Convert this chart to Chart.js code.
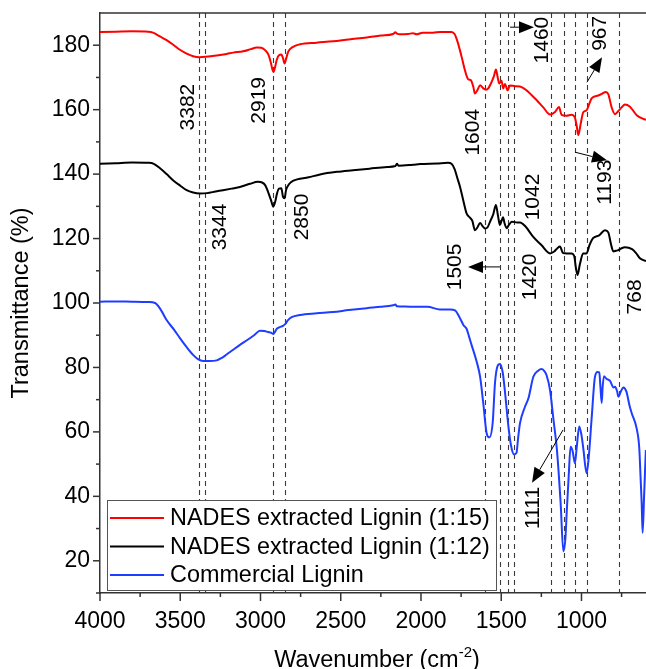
<!DOCTYPE html>
<html>
<head>
<meta charset="utf-8">
<title>FTIR spectra of lignin</title>
<script src="https://cdn.jsdelivr.net/npm/chart.js@4.4.1/dist/chart.umd.min.js"></script>
<style>
  html, body { margin: 0; padding: 0; background: #fff; }
  #wrap { width: 646px; height: 669px; }
</style>
</head>
<body>
<div id="wrap"><canvas id="ftir" width="646" height="669"></canvas></div>
<script>
const FONT = '"Liberation Sans", Arial, Helvetica, sans-serif';

// series (wavenumber in cm-1, transmittance in %)
const seriesNames = ['NADES extracted Lignin (1:15)', 'NADES extracted Lignin (1:12)', 'Commercial Lignin'];
const seriesColors = ['#ff0000', '#000000', '#1f3dff'];

const redWave = [4000, 3900, 3800, 3700, 3670, 3630, 3585, 3540, 3502, 3460, 3420, 3382, 3340, 3273, 3210, 3170, 3108, 3060, 3024, 2995, 2970, 2950, 2935, 2925, 2919, 2910, 2899, 2885, 2870, 2860, 2850, 2842, 2827, 2800, 2754, 2650, 2548, 2450, 2338, 2250, 2174, 2160, 2150, 2131, 2080, 2050, 2027, 1990, 1925, 1880, 1810, 1790, 1775, 1757, 1740, 1726, 1705, 1690, 1674, 1664, 1649, 1632, 1612, 1595, 1581, 1560, 1545, 1533, 1522, 1512, 1498, 1488, 1477, 1460, 1446, 1414, 1383, 1342, 1310, 1280, 1238, 1196, 1165, 1140, 1124, 1093, 1062, 1041, 1030, 1020, 1005, 989, 968, 950, 937, 895, 870, 849, 833, 812, 791, 770, 750, 729, 698, 656, 614, 598];
const redT = [184.1, 184.2, 184.3, 184.2, 183.9, 182.8, 181.6, 180.0, 178.6, 177.4, 176.6, 176.3, 176.4, 176.8, 177.3, 177.7, 178.1, 178.8, 179.3, 179.2, 178.4, 177.0, 174.5, 172.3, 171.7, 173.0, 175.4, 176.9, 177.1, 176.0, 174.3, 175.5, 178.0, 179.4, 180.3, 180.8, 181.2, 181.8, 182.4, 183.0, 183.5, 184.0, 183.6, 183.4, 183.5, 183.7, 183.4, 183.9, 183.9, 184.1, 184.1, 183.4, 181.5, 178.4, 175.0, 172.2, 169.4, 169.2, 167.1, 165.0, 166.0, 167.6, 166.6, 166.2, 166.6, 168.6, 170.5, 172.5, 170.0, 168.1, 169.0, 166.6, 168.0, 166.0, 167.5, 167.3, 167.2, 166.0, 164.5, 163.0, 160.7, 158.5, 159.3, 160.8, 158.4, 158.1, 158.4, 157.5, 155.0, 152.1, 155.6, 159.2, 159.8, 162.0, 163.5, 164.4, 165.0, 165.5, 164.8, 160.7, 158.6, 159.6, 160.7, 161.6, 160.9, 158.3, 157.1, 156.9];

const blackWave = [4000, 3900, 3800, 3700, 3665, 3626, 3585, 3545, 3500, 3460, 3420, 3377, 3333, 3280, 3234, 3180, 3128, 3065, 3016, 2990, 2970, 2953, 2935, 2920, 2908, 2897, 2885, 2870, 2860, 2850, 2841, 2820, 2798, 2700, 2629, 2524, 2424, 2320, 2212, 2160, 2150, 2140, 2050, 2006, 1900, 1832, 1810, 1790, 1775, 1757, 1735, 1716, 1695, 1680, 1664, 1648, 1632, 1615, 1601, 1585, 1570, 1550, 1533, 1520, 1508, 1498, 1489, 1478, 1466, 1455, 1434, 1400, 1383, 1350, 1302, 1250, 1196, 1170, 1150, 1134, 1115, 1090, 1062, 1045, 1035, 1025, 1010, 990, 968, 950, 928, 890, 853, 833, 815, 802, 785, 770, 750, 729, 685, 660, 636, 598];
const blackT = [143.2, 143.4, 143.6, 143.5, 143.2, 141.8, 140.0, 138.1, 136.4, 135.0, 134.3, 134.0, 134.1, 134.6, 135.0, 135.5, 136.0, 137.0, 137.6, 137.4, 136.5, 134.5, 132.0, 129.9, 131.5, 134.0, 135.5, 135.6, 133.0, 132.5, 135.0, 137.0, 137.9, 139.0, 139.9, 140.7, 141.2, 141.7, 142.2, 142.5, 143.2, 142.6, 142.9, 143.1, 143.3, 143.5, 143.2, 141.5, 139.0, 136.1, 131.5, 127.8, 126.5, 125.5, 122.6, 123.5, 124.8, 123.8, 123.1, 123.5, 125.2, 127.5, 130.4, 127.0, 124.2, 125.5, 126.6, 124.5, 123.2, 124.0, 125.2, 125.0, 125.0, 123.8, 120.6, 118.0, 115.4, 116.0, 117.0, 117.5, 115.5, 115.4, 115.4, 114.5, 111.0, 108.7, 112.0, 115.4, 115.4, 118.0, 120.1, 121.0, 122.6, 121.9, 118.0, 116.0, 116.2, 116.4, 117.0, 117.3, 116.7, 115.5, 113.9, 113.0];

const blueWave = [4000, 3900, 3800, 3700, 3657, 3620, 3585, 3540, 3502, 3460, 3420, 3390, 3358, 3320, 3273, 3240, 3211, 3170, 3128, 3080, 3040, 3003, 2975, 2953, 2935, 2920, 2910, 2899, 2880, 2860, 2845, 2830, 2806, 2754, 2650, 2548, 2450, 2338, 2250, 2174, 2160, 2150, 2100, 2027, 1960, 1882, 1819, 1788, 1757, 1736, 1716, 1700, 1685, 1653, 1632, 1612, 1591, 1574, 1553, 1539, 1524, 1508, 1491, 1477, 1456, 1440, 1420, 1405, 1395, 1383, 1352, 1330, 1300, 1270, 1248, 1230, 1217, 1196, 1175, 1153, 1130, 1113, 1100, 1092, 1080, 1068, 1055, 1041, 1030, 1014, 1000, 989, 968, 955, 937, 916, 900, 889, 882, 874, 868, 860, 845, 823, 800, 791, 778, 770, 755, 739, 720, 700, 687, 656, 640, 632, 625, 619, 610, 599];
const blueT = [100.4, 100.5, 100.4, 100.3, 100.0, 97.8, 94.7, 91.8, 89.1, 86.3, 83.9, 82.6, 82.0, 82.0, 82.2, 83.0, 84.0, 85.5, 87.0, 88.6, 90.0, 91.4, 91.3, 91.0, 90.8, 90.4, 91.0, 92.0, 92.5, 92.9, 93.5, 94.6, 95.6, 96.3, 96.8, 97.2, 97.8, 98.4, 98.8, 99.3, 99.5, 99.0, 98.9, 98.8, 98.8, 98.0, 98.0, 97.7, 95.3, 93.2, 92.0, 89.5, 87.0, 81.8, 77.2, 68.9, 59.6, 58.3, 63.0, 75.1, 80.3, 81.1, 78.5, 72.6, 62.0, 56.0, 53.0, 53.5, 58.0, 62.7, 67.8, 70.5, 77.1, 79.0, 79.5, 78.8, 77.5, 73.0, 64.0, 54.4, 38.0, 22.9, 27.0, 35.0, 46.0, 55.4, 54.0, 50.3, 55.0, 61.7, 59.0, 55.0, 47.2, 52.0, 64.0, 77.1, 78.6, 78.5, 74.0, 69.0, 74.0, 77.3, 76.5, 75.9, 73.8, 74.0, 72.6, 70.9, 72.5, 73.8, 72.5, 68.0, 65.8, 61.0, 55.0, 46.1, 38.0, 28.7, 40.0, 54.4];

// marked band positions (cm-1)
const peaks = [3382, 3344, 2919, 2850, 1604, 1505, 1460, 1420, 1193, 1111, 1042, 967, 768];

// axis ranges and ticks
const xMin = 598, xMax = 4000;
const yMin = 10, yMax = 190;
const xTickValues = [4000, 3750, 3500, 3250, 3000, 2750, 2500, 2250, 2000, 1750, 1500, 1250, 1000, 750];

// where each band number sits (in axis units) and its arrow, if any
const bandLabels = [
  { peak: 3382, w: 3452, t: 160.8 },
  { peak: 2919, w: 3009, t: 162.9 },
  { peak: 3344, w: 3252, t: 123.6 },
  { peak: 2850, w: 2741, t: 126.7 },
  { peak: 1604, w: 1676, t: 153.0 },
  { peak: 1460, w: 1246, t: 181.6, arrow: [[1445, 185.6], [1296, 185.6]] },
  { peak: 967,  w: 885,  t: 183.7, arrow: [[966, 168.5], [872, 176.3]] },
  { peak: 1193, w: 854,  t: 137.5, arrow: [[1040, 146.8], [841, 144.3]] },
  { peak: 1042, w: 1302, t: 132.9 },
  { peak: 1505, w: 1788, t: 111.2, arrow: [[1508, 111.2], [1707, 111.2]] },
  { peak: 1420, w: 1321, t: 108.1 },
  { peak: 768,  w: 667,  t: 101.9 },
  { peak: 1111, w: 1302, t: 36.4, arrow: [[1115, 60.6], [1308, 44.2]] }
];

function toPoints(ws, ts) {
  return ws.map((w, i) => ({ x: w, y: ts[i] }));
}

function line(ctx, x1, y1, x2, y2) {
  ctx.beginPath();
  ctx.moveTo(x1, y1);
  ctx.lineTo(x2, y2);
  ctx.stroke();
}

function arrow(ctx, x1, y1, x2, y2) {
  const ang = Math.atan2(y2 - y1, x2 - x1);
  const len = 15, half = 6;
  const bx = x2 - len * Math.cos(ang), by = y2 - len * Math.sin(ang);
  ctx.strokeStyle = '#000';
  ctx.lineWidth = 1;
  line(ctx, x1, y1, bx, by);
  ctx.fillStyle = '#000';
  ctx.beginPath();
  ctx.moveTo(x2, y2);
  ctx.lineTo(bx + half * Math.sin(ang), by - half * Math.cos(ang));
  ctx.lineTo(bx - half * Math.sin(ang), by + half * Math.cos(ang));
  ctx.closePath();
  ctx.fill();
}

const decor = {
  id: 'ftirDecor',
  beforeDatasetsDraw(chart) {
    const { ctx, chartArea: a, scales: { x } } = chart;
    ctx.save();
    ctx.strokeStyle = '#3a3a3a';
    ctx.lineWidth = 1.1;
    ctx.setLineDash([5, 4]);
    peaks.forEach(p => {
      const px = Math.round(x.getPixelForValue(p)) + 0.5;
      line(ctx, px, a.top, px, a.bottom);
    });
    ctx.restore();
  },
  afterDatasetsDraw(chart) {
    const { ctx, scales: { x, y } } = chart;
    ctx.save();
    ctx.font = `21px ${FONT}`;
    ctx.textAlign = 'center';
    ctx.textBaseline = 'middle';
    bandLabels.forEach(b => {
      ctx.save();
      ctx.translate(x.getPixelForValue(b.w), y.getPixelForValue(b.t));
      ctx.rotate(-Math.PI / 2);
      ctx.fillStyle = '#000';
      ctx.fillText(String(b.peak), 0, 0);
      ctx.restore();
      if (b.arrow) {
        const [p, q] = b.arrow;
        arrow(ctx, x.getPixelForValue(p[0]), y.getPixelForValue(p[1]),
                   x.getPixelForValue(q[0]), y.getPixelForValue(q[1]));
      }
    });
    ctx.restore();
  },
  afterDraw(chart) {
    const { ctx, chartArea: a, scales: { x, y } } = chart;
    ctx.save();
    ctx.strokeStyle = '#333';
    ctx.lineWidth = 1.5;
    // frame top
    line(ctx, a.left, a.top, a.right, a.top);
    // tick marks, outward
    x.ticks.forEach(t => {
      const px = x.getPixelForValue(t.value);
      line(ctx, px, a.bottom, px, a.bottom + (t.value % 500 === 0 ? 8 : 4));
    });
    y.ticks.forEach(t => {
      if (t.value >= yMax) return;
      const py = y.getPixelForValue(t.value);
      line(ctx, a.left - (t.value % 20 === 0 ? 7 : 4), py, a.left, py);
    });

    // axis titles
    ctx.fillStyle = '#000';
    ctx.textBaseline = 'alphabetic';
    ctx.font = `23.5px ${FONT}`;
    const t1 = 'Wavenumber (cm', t2 = '-2', t3 = ')';
    const w1 = ctx.measureText(t1).width, w3 = ctx.measureText(t3).width;
    ctx.font = `15px ${FONT}`;
    const w2 = ctx.measureText(t2).width;
    let sx = 377 - (w1 + w2 + w3) / 2;
    const base = 667;
    ctx.font = `23.5px ${FONT}`;
    ctx.textAlign = 'left';
    ctx.fillText(t1, sx, base);
    ctx.font = `15px ${FONT}`;
    ctx.fillText(t2, sx + w1, base - 10);
    ctx.font = `23.5px ${FONT}`;
    ctx.fillText(t3, sx + w1 + w2, base);

    ctx.save();
    ctx.translate(22, (a.top + a.bottom) / 2);
    ctx.rotate(-Math.PI / 2);
    ctx.textAlign = 'center';
    ctx.textBaseline = 'middle';
    ctx.fillText('Transmittance (%)', 0, 0);
    ctx.restore();

    // legend box
    const lx = 107, ly = 500, lw = 389, lh = 90;
    ctx.fillStyle = '#fff';
    ctx.fillRect(lx, ly, lw, lh);
    ctx.strokeStyle = '#555';
    ctx.lineWidth = 1;
    ctx.strokeRect(lx + 0.5, ly + 0.5, lw, lh);
    ctx.font = `23.4px ${FONT}`;
    ctx.textAlign = 'left';
    ctx.textBaseline = 'middle';
    seriesNames.forEach((name, i) => {
      const ry = ly + 18 + i * 28.5;
      ctx.strokeStyle = seriesColors[i];
      ctx.lineWidth = 2;
      line(ctx, lx + 3, ry, lx + 57, ry);
      ctx.fillStyle = '#000';
      ctx.fillText(name, lx + 63, ry + 1);
    });
    ctx.restore();
  }
};

const waves = [redWave, blackWave, blueWave];
const trans = [redT, blackT, blueT];

new Chart(document.getElementById('ftir'), {
  type: 'line',
  data: {
    datasets: seriesNames.map((name, i) => ({
      label: name,
      data: toPoints(waves[i], trans[i]),
      borderColor: seriesColors[i],
      borderWidth: 2,
      pointRadius: 0,
      cubicInterpolationMode: 'monotone',
      fill: false
    }))
  },
  options: {
    responsive: false,
    animation: false,
    devicePixelRatio: 1,
    layout: { padding: { top: 13, right: 0, left: 0, bottom: 0 } },
    plugins: { legend: { display: false }, tooltip: { enabled: false } },
    scales: {
      x: {
        type: 'linear',
        reverse: true,
        min: xMin,
        max: xMax,
        afterBuildTicks: s => { s.ticks = xTickValues.map(v => ({ value: v })); },
        afterFit: s => { s.height = 76; s.paddingLeft = 0; s.paddingRight = 0; },
        grid: { display: false, drawTicks: false },
        border: { display: true, color: '#333', width: 1.5 },
        ticks: {
          autoSkip: false,
          maxRotation: 0,
          padding: 15,
          color: '#000',
          font: { family: FONT, size: 23 },
          callback: v => (v % 500 === 0 ? String(v) : '')
        }
      },
      y: {
        min: yMin,
        max: yMax,
        afterFit: s => { s.width = 100; s.paddingTop = 0; s.paddingBottom = 0; },
        grid: { display: false, drawTicks: false },
        border: { display: true, color: '#333', width: 1.5 },
        ticks: {
          stepSize: 10,
          autoSkip: false,
          padding: 10,
          color: '#000',
          font: { family: FONT, size: 23 },
          callback: v => (v % 20 === 0 && v > yMin && v < yMax ? String(v) : '')
        }
      }
    }
  },
  plugins: [decor]
});
</script>
</body>
</html>
